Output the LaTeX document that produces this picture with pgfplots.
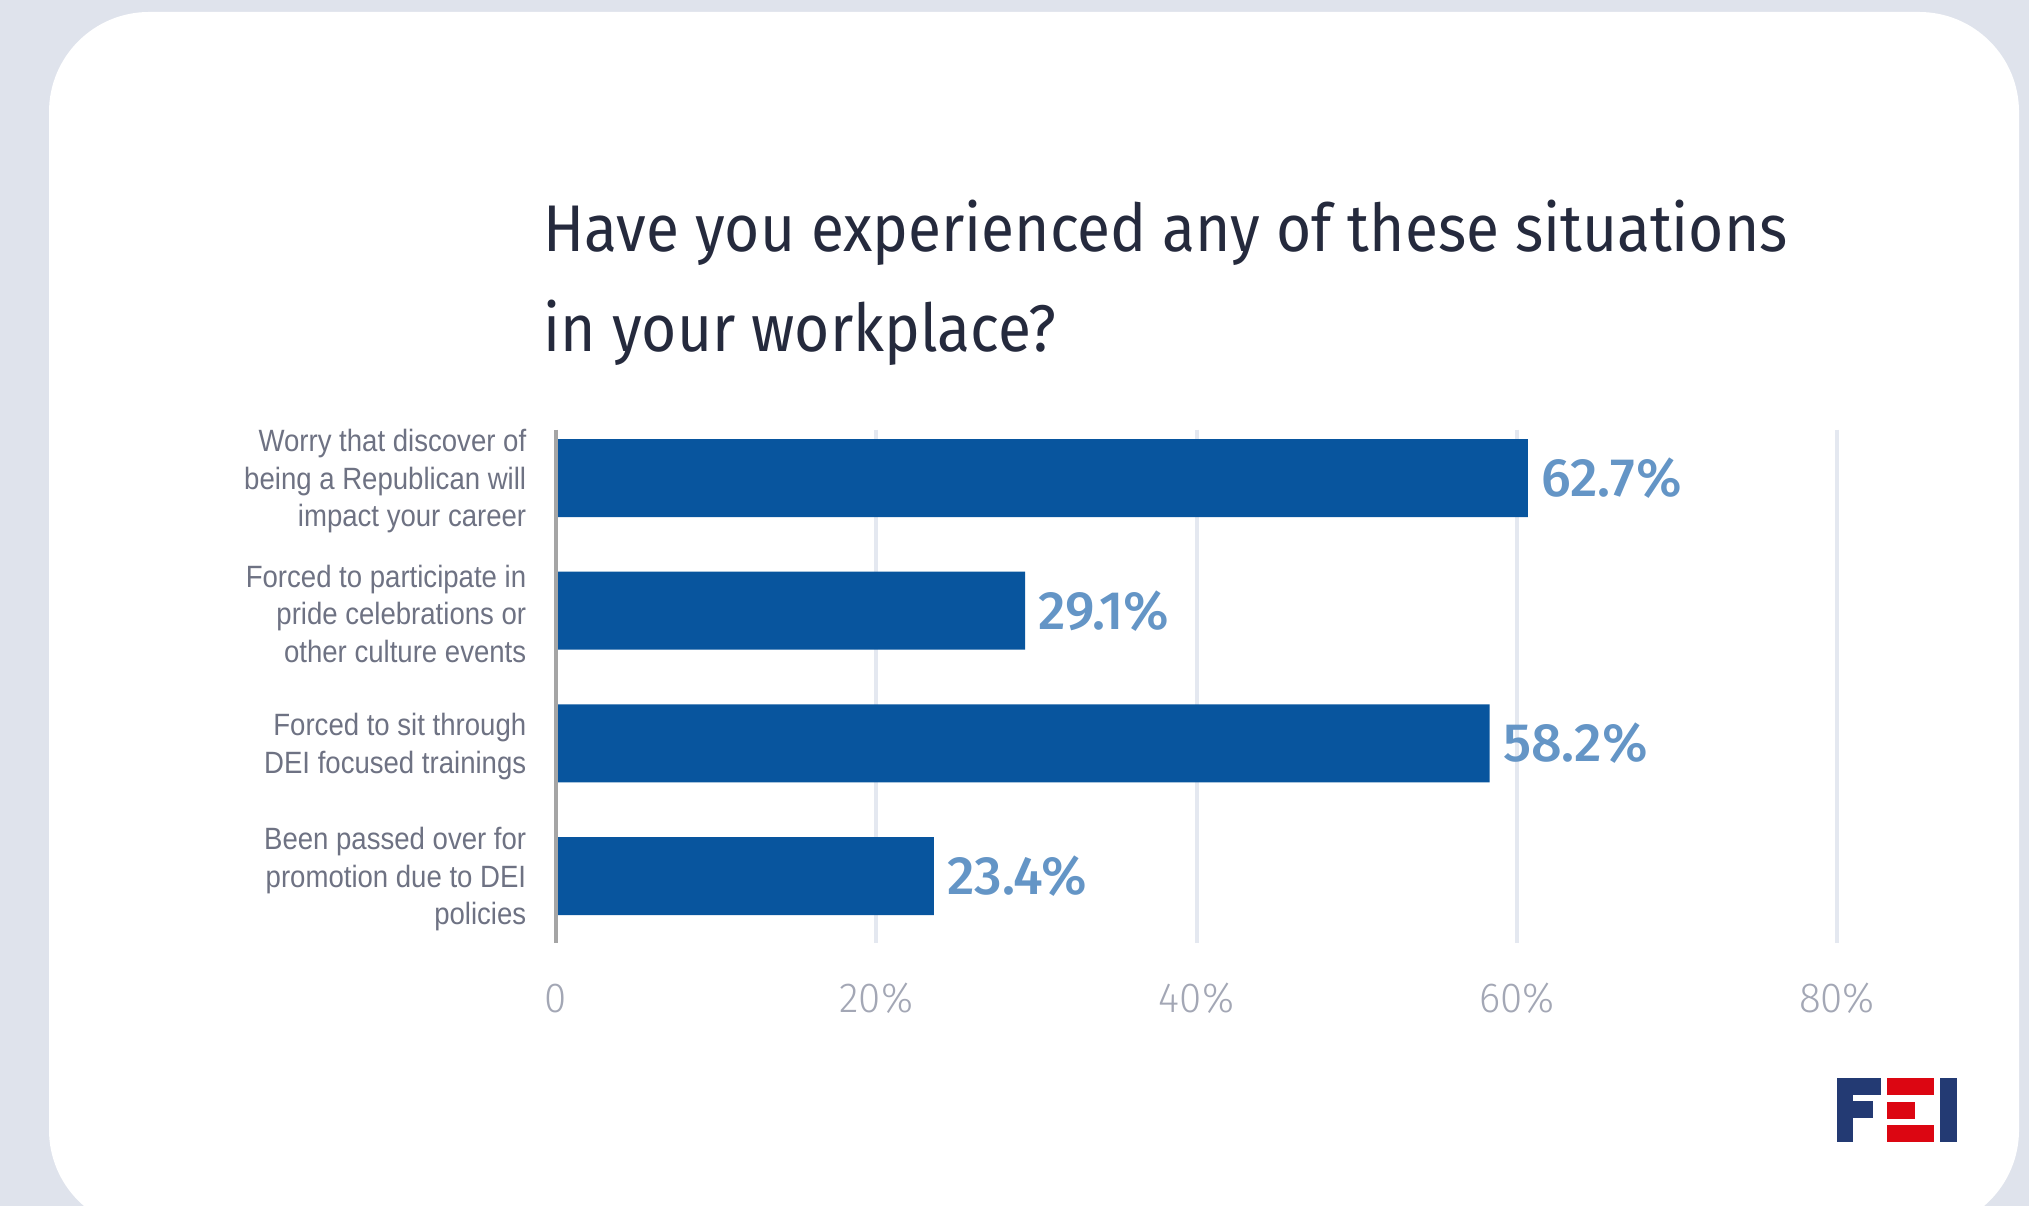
\documentclass[border=0pt]{standalone}
\usepackage{pgfplots}
\pgfplotsset{compat=1.18}
\usepackage{fontspec}
\setmainfont{Fira Sans}
\newfontfamily\titlefont[FakeStretch=0.915]{Fira Sans}
\newfontfamily\catfont[FakeStretch=0.895]{Liberation Sans}
\newfontfamily\tickfont[FakeStretch=0.96]{Fira Sans Light}
\newfontfamily\valfont[FakeStretch=1.0]{Fira Sans Medium}
\definecolor{bgc}{HTML}{DFE3EC}
\definecolor{titlec}{HTML}{252A3D}
\definecolor{catc}{HTML}{6E7283}
\definecolor{tickc}{HTML}{A3A7B5}
\definecolor{gridc}{HTML}{E4E8F0}
\definecolor{axisc}{HTML}{A5A5A5}
\definecolor{barc}{HTML}{08559E}
\definecolor{valc}{HTML}{6495C6}
\definecolor{logob}{HTML}{233A73}
\definecolor{logor}{HTML}{DC0612}
\begin{document}
\begin{tikzpicture}
\useasboundingbox (0,0) rectangle (507.25pt,301.5pt);
\begin{scope}[x=0.25pt,y=-0.25pt,shift={(0,301.5pt)}]
\fill[bgc] (0,0) rectangle (2029,1206);
\fill[white, rounded corners=25pt] (49,12) rectangle (2019,1230);
% logo
\fill[logob] (1837,1078) rectangle (1853,1142);
\fill[logob] (1837,1078) rectangle (1881,1095);
\fill[logob] (1837,1101) rectangle (1873,1118);
\fill[logor] (1887,1078) rectangle (1934,1095);
\fill[logor] (1887,1102) rectangle (1915,1119);
\fill[logor] (1887,1125) rectangle (1934,1142);
\fill[logob] (1940,1078) rectangle (1957,1142);
\node[anchor=base west, inner sep=0pt, text=titlec, font=\titlefont\fontsize{16.5pt}{20pt}\selectfont] at (543,252) {Have you experienced any of these situations};
\node[anchor=base west, inner sep=0pt, text=titlec, font=\titlefont\fontsize{16.5pt}{20pt}\selectfont] at (543,352) {in your workplace?};
\end{scope}
\begin{axis}[
  at={(139pt,65.75pt)}, anchor=south west,
  scale only axis, width=320.25pt, height=128.25pt,
  xmin=0, xmax=80, ymin=-0.362, ymax=3.505, y dir=reverse,
  xbar, bar width=19.5pt,
  axis line style={draw=none},
  clip=false,
  xtick={0,20,40,60,80},
  xticklabels={0,20\%,40\%,60\%,80\%},
  major tick length=0pt,
  xmajorgrids, grid style={color=gridc, line width=1pt},
  xticklabel style={anchor=base, yshift=-17.5pt, text=tickc, font=\tickfont\fontsize{10.5pt}{12pt}\selectfont},
  ytick={0,1,2,3},
  yticklabels={{Worry that discover of\\being a Republican will\\impact your career},
               {Forced to participate in\\pride celebrations or\\other culture events},
               {Forced to sit through\\DEI focused trainings},
               {Been passed over for\\promotion due to DEI\\policies}},
  yticklabel style={align=right, anchor=east, inner sep=0pt, xshift=-7.25pt, yshift=-0.8pt, text=catc,
     font=\catfont\fontsize{7.7pt}{9.4pt}\selectfont},
  point meta=explicit symbolic,
  nodes near coords,
  nodes near coords style={anchor=west, inner sep=0pt, xshift=3.2pt, text=valc,
     font=\valfont\fontsize{13.5pt}{15pt}\selectfont},
]
\addplot[fill=barc, draw=none] coordinates {
  (60.7,0) [62.7\%]
  (29.3,1) [29.1\%]
  (58.3,2) [58.2\%]
  (23.6,3) [23.4\%]
};
\draw[axisc, line width=1pt] (axis cs:0,-0.362) -- (axis cs:0,3.505);
\end{axis}
\end{tikzpicture}
\end{document}
